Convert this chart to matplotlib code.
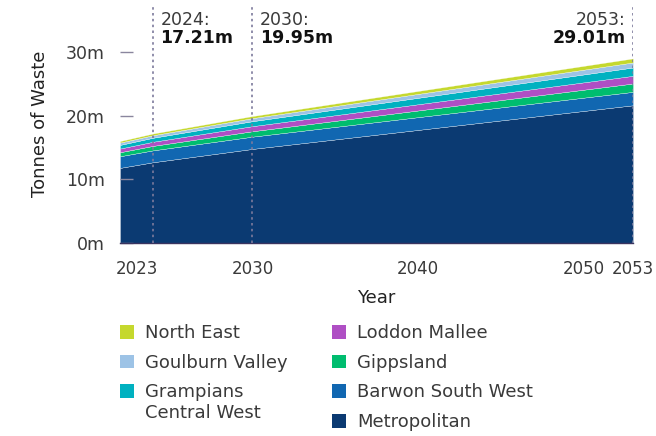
import matplotlib
matplotlib.use('Agg')
import matplotlib.pyplot as plt
import matplotlib.transforms as mtransforms
from matplotlib.patches import Patch

# data (million tonnes)
years = [2022, 2024, 2030, 2053]
metropolitan = [11.80, 12.69, 14.78, 21.64]
barwon_south_west = [1.83, 1.87, 1.93, 2.11]
gippsland = [0.63, 0.70, 0.85, 1.31]
loddon_mallee = [0.58, 0.65, 0.80, 1.21]
grampians_central_west = [0.57, 0.63, 0.78, 1.31]
goulburn_valley = [0.37, 0.40, 0.48, 0.79]
north_east = [0.24, 0.27, 0.33, 0.64]

series_names = ['Metropolitan', 'Barwon South West', 'Gippsland', 'Loddon Mallee',
                'Grampians', 'Goulburn Valley', 'North East']
colors = ['#0b3a72', '#1167b1', '#00bd6f', '#af4fc4', '#00b1c0', '#9dc3e6', '#c5d82e']

x_ticks = [2023, 2030, 2040, 2050, 2053]
y_ticks = [0, 10, 20, 30]
y_tick_labels = ['0m', '10m', '20m', '30m']

marker_years = [2024, 2030, 2053]
marker_totals = ['17.21m', '19.95m', '29.01m']

text_col = '#3a3a3a'
plt.rcParams['font.family'] = ['DejaVu Sans']

fig = plt.figure(figsize=(6.56, 4.36), dpi=100)
ax = fig.add_axes([120 / 656, 1 - 243 / 436, (633 - 120) / 656, 238 / 436])

ax.stackplot(years, metropolitan, barwon_south_west, gippsland, loddon_mallee,
             grampians_central_west, goulburn_valley, north_east,
             colors=colors, edgecolor='white', linewidth=0.2)

ax.set_xlim(2022, 2053)
ax.set_ylim(0, 37.4)

ax.set_xticks(x_ticks)
ax.set_yticks(y_ticks)
ax.set_yticklabels(y_tick_labels)
ax.tick_params(axis='x', length=0, pad=12, labelsize=12, labelcolor=text_col)
ax.tick_params(axis='y', direction='in', length=9, width=1, color='#8a869e',
               pad=11, labelsize=12.5, labelcolor=text_col)

for s in ['top', 'right', 'left']:
    ax.spines[s].set_visible(False)
ax.spines['bottom'].set_color('#3b3460')
ax.spines['bottom'].set_linewidth(1)

ax.set_xlabel('Year', fontsize=13, color='#222222', labelpad=8)
ax.set_ylabel('Tonnes of Waste', fontsize=13, color='#222222', labelpad=12)

# dotted marker lines + totals
trans = mtransforms.blended_transform_factory(ax.transData, ax.transAxes)
for i, yr in enumerate(marker_years):
    ax.axvline(yr, color='#7d7a9c', linestyle=(0, (1.5, 2)), linewidth=1.2, zorder=5)
    if yr == years[-1]:
        dx, ha = -0.45, 'right'
    else:
        dx, ha = 0.45, 'left'
    ax.text(yr + dx, 0.937, f'{yr}:', transform=trans, ha=ha, va='center',
            fontsize=12.5, color=text_col)
    ax.text(yr + dx, 0.861, marker_totals[i], transform=trans, ha=ha, va='center',
            fontsize=12.5, color='#111111', fontweight='bold')

# legend in two blocks
handles = [Patch(facecolor=c) for c in colors]
left_idx = [6, 5, 4]
right_idx = [3, 2, 1, 0]
leg_kw = dict(frameon=False, fontsize=13, handlelength=0.8, handleheight=0.8,
              handletextpad=0.6, labelspacing=0.65, borderpad=0, borderaxespad=0,
              labelcolor=text_col, loc='upper left')
leg1 = fig.legend([handles[i] for i in left_idx], [series_names[i] for i in left_idx],
                  bbox_to_anchor=(120 / 656, 1 - 324 / 436), **leg_kw)
leg2 = fig.legend([handles[i] for i in right_idx], [series_names[i] for i in right_idx],
                  bbox_to_anchor=(332 / 656, 1 - 324 / 436), **leg_kw)

# second line of the Grampians label, under the first one
fig.canvas.draw()
bb = leg1.get_texts()[2].get_window_extent()
x0, y0 = fig.transFigure.inverted().transform((bb.x0, bb.y0))
fig.text(x0, y0 - 21 / 436, 'Central West', fontsize=13, color=text_col,
         ha='left', va='bottom')

fig.savefig('out.png', dpi=100)
